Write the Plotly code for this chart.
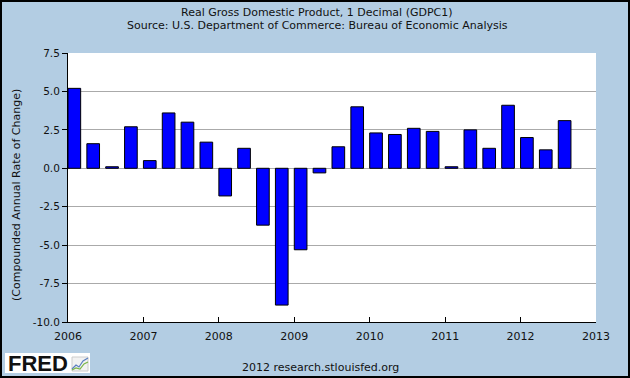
import plotly.graph_objects as go

# ---- data ----
quarters = ["2006Q1","2006Q2","2006Q3","2006Q4","2007Q1","2007Q2","2007Q3","2007Q4",
            "2008Q1","2008Q2","2008Q3","2008Q4","2009Q1","2009Q2","2009Q3","2009Q4",
            "2010Q1","2010Q2","2010Q3","2010Q4","2011Q1","2011Q2","2011Q3","2011Q4",
            "2012Q1","2012Q2","2012Q3"]
gdp_growth = [5.2, 1.6, 0.1, 2.7, 0.5, 3.6, 3.0, 1.7,
              -1.8, 1.3, -3.7, -8.9, -5.3, -0.3, 1.4, 4.0,
              2.3, 2.2, 2.6, 2.4, 0.1, 2.5, 1.3, 4.1,
              2.0, 1.2, 3.1]
y_tickvals = [7.5, 5.0, 2.5, 0.0, -2.5, -5.0, -7.5, -10.0]
y_ticktext = ["7.5", "5.0", "2.5", "0.0", "-2.5", "-5.0", "-7.5", "-10.0"]
x_tickvals = [2006, 2007, 2008, 2009, 2010, 2011, 2012, 2013]
x_ticktext = ["2006", "2007", "2008", "2009", "2010", "2011", "2012", "2013"]

# quarter -> decimal year (bar drawn about a month into the quarter, as FRED does)
def q_to_year(q):
    y, n = int(q[:4]), int(q[-1])
    return y + (n - 1) * 0.25 + 0.084

xs = [q_to_year(q) for q in quarters]

BG = "#b3cde3"
FONT = "DejaVu Sans"
W, H = 630, 378
ML, MR, MT, MB = 68, 34, 53, 56
PW, PH = W - ML - MR, H - MT - MB

def px(x):  # pixel -> paper x
    return (x - ML) / PW

def py(y):  # pixel -> paper y
    return (H - MB - y) / PH

fig = go.Figure()
fig.add_trace(go.Bar(
    x=xs, y=gdp_growth, width=0.168,
    marker=dict(color="#0000ff", line=dict(color="black", width=1)),
    hoverinfo="skip",
))

shapes = [
    # outer frame
    dict(type="rect", xref="paper", yref="paper", x0=px(1), x1=px(629), y0=py(377), y1=py(1),
         line=dict(color="black", width=2), layer="above"),
    # FRED logo box
    dict(type="rect", xref="paper", yref="paper", x0=px(5), x1=px(90), y0=py(373), y1=py(353),
         line=dict(width=0), fillcolor="white", layer="above"),
    # small icon grid
    dict(type="rect", xref="paper", yref="paper", x0=px(72), x1=px(88), y0=py(371), y1=py(357),
         line=dict(color="#cccccc", width=1), fillcolor="#f2f2f2", layer="above"),
    dict(type="path", xref="paper", yref="paper",
         path=f"M {px(72)},{py(369)} L {px(76)},{py(365)} L {px(79)},{py(367)} L {px(83)},{py(361)} L {px(88)},{py(358)}",
         line=dict(color="#5b7fc0", width=1.2), layer="above"),
    dict(type="path", xref="paper", yref="paper",
         path=f"M {px(72)},{py(370)} L {px(76)},{py(368)} L {px(80)},{py(369)} L {px(84)},{py(364)} L {px(88)},{py(362)}",
         line=dict(color="#7ab648", width=1.2), layer="above"),
]

annotations = [
    dict(text="Real Gross Domestic Product, 1 Decimal (GDPC1)", xref="paper", yref="paper",
         x=px(317), y=py(12), showarrow=False, font=dict(family=FONT, size=11, color="#111111"),
         xanchor="center", yanchor="middle"),
    dict(text="Source: U.S. Department of Commerce: Bureau of Economic Analysis", xref="paper", yref="paper",
         x=px(317), y=py(25.5), showarrow=False, font=dict(family=FONT, size=11, color="#111111"),
         xanchor="center", yanchor="middle"),
    dict(text="(Compounded Annual Rate of Change)", xref="paper", yref="paper",
         x=px(17), y=py(195), showarrow=False, textangle=-90,
         font=dict(family=FONT, size=11, color="#111111"), xanchor="center", yanchor="middle"),
    dict(text="2012 research.stlouisfed.org", xref="paper", yref="paper",
         x=px(320), y=py(367), showarrow=False, font=dict(family=FONT, size=11, color="#111111"),
         xanchor="center", yanchor="middle"),
    dict(text="<b>FRED</b>", xref="paper", yref="paper",
         x=px(6), y=py(363), showarrow=False, font=dict(family="Liberation Sans", size=22, color="#111111"),
         xanchor="left", yanchor="middle"),
]

fig.update_layout(
    width=W, height=H, autosize=False,
    margin=dict(l=ML, r=MR, t=MT, b=MB, pad=0),
    paper_bgcolor=BG, plot_bgcolor="white",
    showlegend=False, bargap=0,
    font=dict(family=FONT, size=10.5, color="#111111"),
    shapes=shapes, annotations=annotations,
    xaxis=dict(range=[2006, 2013], tickvals=x_tickvals, ticktext=x_ticktext,
               ticks="inside", ticklen=5, tickcolor="black", tickwidth=1,
               showline=True, linecolor="black", linewidth=1, showgrid=False,
               zeroline=False, fixedrange=True, ticklabelstandoff=4,
               tickfont=dict(family=FONT, size=11, color="#111111")),
    yaxis=dict(range=[-10, 7.5], tickvals=y_tickvals, ticktext=y_ticktext,
               ticks="outside", ticklen=5, tickcolor="black", tickwidth=1,
               showline=True, linecolor="black", linewidth=1,
               showgrid=True, gridcolor="#aaaaaa", gridwidth=1,
               zeroline=True, zerolinecolor="#aaaaaa", zerolinewidth=1,
               fixedrange=True, tickfont=dict(family=FONT, size=10.5, color="#111111")),
)

fig.write_html("out.html", config={"displayModeBar": False, "staticPlot": True},
               post_script="document.body.style.margin='0';document.body.style.overflow='hidden';")
